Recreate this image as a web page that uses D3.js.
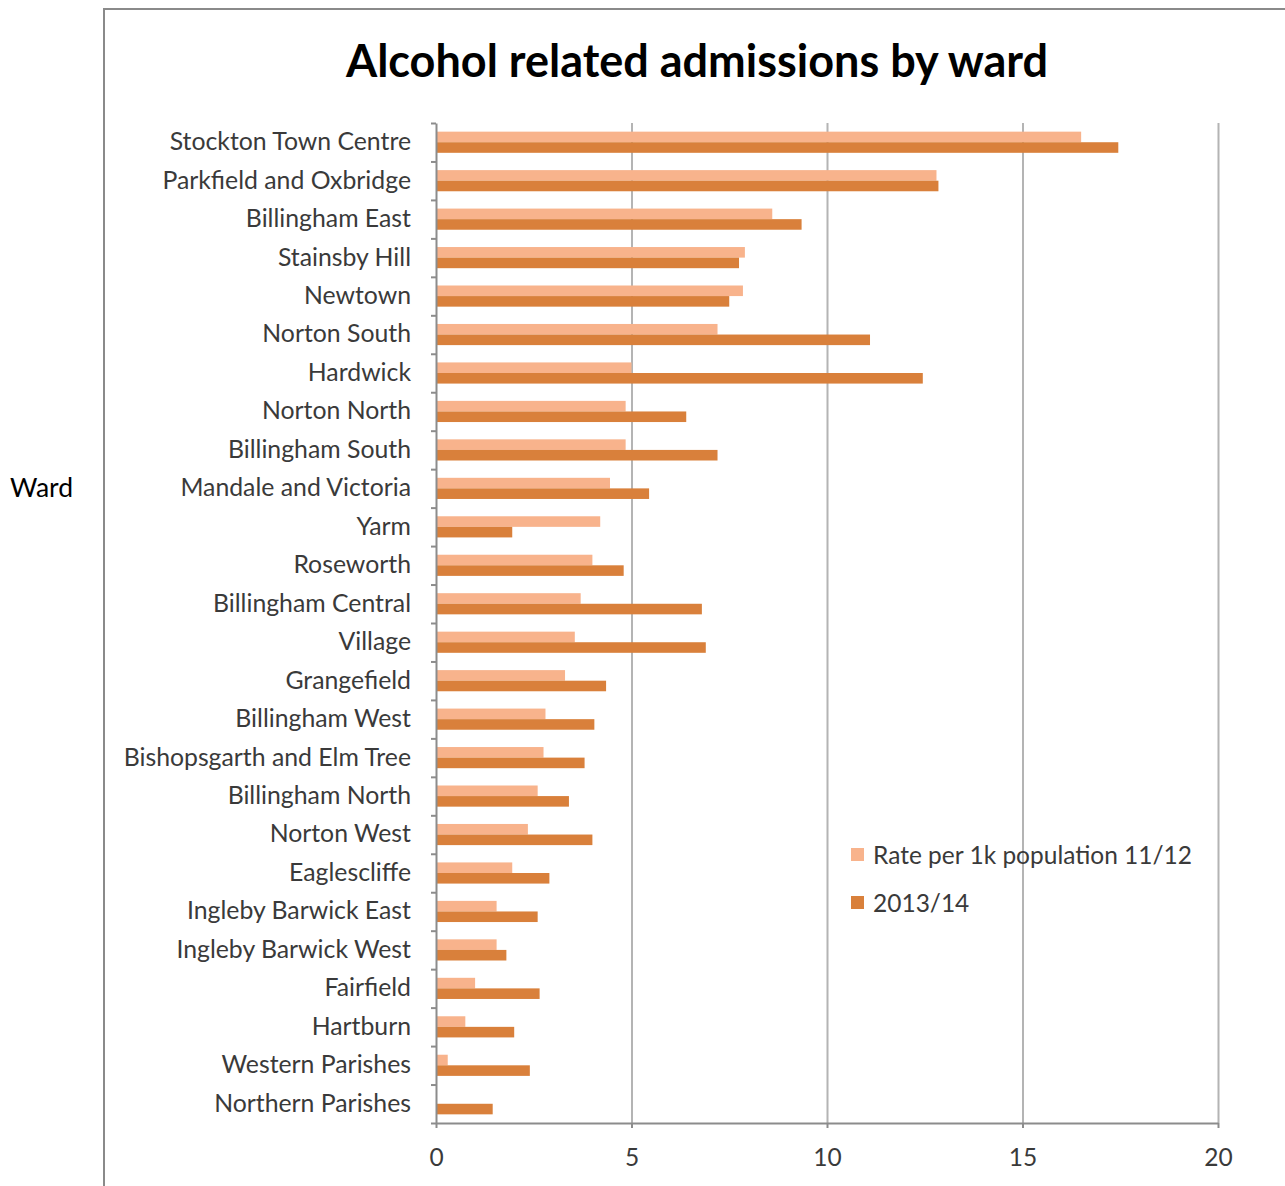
<!DOCTYPE html>
<html>
<head>
<meta charset="utf-8">
<script src="https://cdn.jsdelivr.net/npm/d3@7"></script>
<style>
  body { margin: 0; background: #fff; }
  svg { display: block; }
  text { font-family: Lato, "Open Sans", sans-serif; }
</style>
</head>
<body>
<script>
// wards, top to bottom as in the chart
var wards = ["Stockton Town Centre", "Parkfield and Oxbridge", "Billingham East", "Stainsby Hill",
  "Newtown", "Norton South", "Hardwick", "Norton North", "Billingham South", "Mandale and Victoria",
  "Yarm", "Roseworth", "Billingham Central", "Village", "Grangefield", "Billingham West",
  "Bishopsgarth and Elm Tree", "Billingham North", "Norton West", "Eaglescliffe",
  "Ingleby Barwick East", "Ingleby Barwick West", "Fairfield", "Hartburn", "Western Parishes",
  "Northern Parishes"];

var seriesNames = ["Rate per 1k population 11/12", "2013/14"];

var rate1112 = [16.5, 12.8, 8.6, 7.9, 7.85, 7.2, 5.0, 4.85, 4.85, 4.45, 4.2, 4.0, 3.7, 3.55, 3.3,
  2.8, 2.75, 2.6, 2.35, 1.95, 1.55, 1.55, 1.0, 0.75, 0.3, 0];
var rate1314 = [17.45, 12.85, 9.35, 7.75, 7.5, 11.1, 12.45, 6.4, 7.2, 5.45, 1.95, 4.8, 6.8, 6.9, 4.35,
  4.05, 3.8, 3.4, 4.0, 2.9, 2.6, 1.8, 2.65, 2.0, 2.4, 1.45];

var xTicks = [0, 5, 10, 15, 20];
var colors = ["#f8b38c", "#d9803b"];

var W = 1285, H = 1186;
var margin = {top: 123, left: 436, right: 67, bottom: 63};
var width = W - margin.left - margin.right,
    height = H - margin.top - margin.bottom;

var svg = d3.select("body").append("svg")
    .attr("width", W)
    .attr("height", H);

// chart frame
svg.append("path")
    .attr("d", "M104," + H + "V9H" + W)
    .attr("fill", "none")
    .attr("stroke", "#8a8a8a")
    .attr("stroke-width", 2);

svg.append("text")
    .attr("x", 10)
    .attr("y", 488)
    .attr("dy", "0.35em")
    .attr("font-size", 26.5)
    .attr("fill", "#000")
    .text("Ward");

svg.append("text")
    .attr("x", 697)
    .attr("y", 61)
    .attr("dy", "0.35em")
    .attr("text-anchor", "middle")
    .attr("font-size", 45)
    .attr("font-weight", "bold")
    .attr("fill", "#000")
    .text("Alcohol related admissions by ward");

var g = svg.append("g")
    .attr("transform", "translate(" + margin.left + "," + margin.top + ")");

var x = d3.scaleLinear().domain([0, 20]).range([0, width]);

var y = d3.scaleBand()
    .domain(wards)
    .range([0, height])
    .paddingInner(0.45)
    .paddingOuter(0.225);

var yIdx = d3.scaleLinear().domain([0, wards.length]).range([0, height]);

var sub = d3.scaleBand()
    .domain([0, 1])
    .range([0, y.bandwidth()]);

// gridlines
g.append("g")
    .attr("class", "grid")
    .call(d3.axisBottom(x).tickValues(xTicks.slice(1)).tickSize(height).tickFormat(""))
    .call(function(s) {
      s.select(".domain").remove();
      s.selectAll("line").attr("stroke", "#b4b4b4").attr("stroke-width", 2);
    });

// bars
var rows = wards.map(function(w, i) { return {ward: w, vals: [rate1112[i], rate1314[i]]}; });

var row = g.selectAll(".row")
    .data(rows)
  .enter().append("g")
    .attr("class", "row")
    .attr("transform", function(d) { return "translate(0," + y(d.ward) + ")"; });

row.selectAll("rect")
    .data(function(d) { return d.vals; })
  .enter().append("rect")
    .attr("x", x(0))
    .attr("y", function(d, i) { return sub(i); })
    .attr("width", function(d) { return x(d) - x(0); })
    .attr("height", sub.bandwidth())
    .attr("fill", function(d, i) { return colors[i]; });

// y axis: boundary ticks
g.append("g")
    .call(d3.axisLeft(yIdx).tickValues(d3.range(wards.length + 1)).tickSize(5).tickSizeOuter(0).tickFormat(""))
    .call(function(s) {
      s.selectAll("line, path").attr("stroke", "#8c8c8c").attr("stroke-width", 2);
    });

// y labels
g.append("g")
    .call(d3.axisLeft(y).tickSize(0).tickPadding(25))
    .call(function(s) {
      s.select(".domain").remove();
      s.selectAll("text")
        .attr("font-family", "Lato, 'Open Sans', sans-serif")
        .attr("font-size", 24.8)
        .attr("fill", "#3a3a3a");
    });

// x axis
g.append("g")
    .attr("transform", "translate(0," + height + ")")
    .call(d3.axisBottom(x).tickValues(xTicks).tickSize(5).tickSizeOuter(0).tickPadding(21))
    .call(function(s) {
      s.selectAll("line, path").attr("stroke", "#8c8c8c").attr("stroke-width", 2);
      s.selectAll("text")
        .attr("font-family", "Lato, 'Open Sans', sans-serif")
        .attr("font-size", 24.5)
        .attr("fill", "#3a3a3a");
    });

// legend
var legend = svg.append("g")
    .attr("transform", "translate(851,855)");

var li = legend.selectAll(".li")
    .data(seriesNames)
  .enter().append("g")
    .attr("transform", function(d, i) { return "translate(0," + (i * 48) + ")"; });

li.append("rect")
    .attr("x", 0)
    .attr("y", -7)
    .attr("width", 13)
    .attr("height", 13)
    .attr("fill", function(d, i) { return colors[i]; });

li.append("text")
    .attr("x", 22)
    .attr("y", 0)
    .attr("dy", "0.35em")
    .attr("font-size", 24.5)
    .attr("fill", "#3a3a3a")
    .text(function(d) { return d; });
</script>
</body>
</html>
